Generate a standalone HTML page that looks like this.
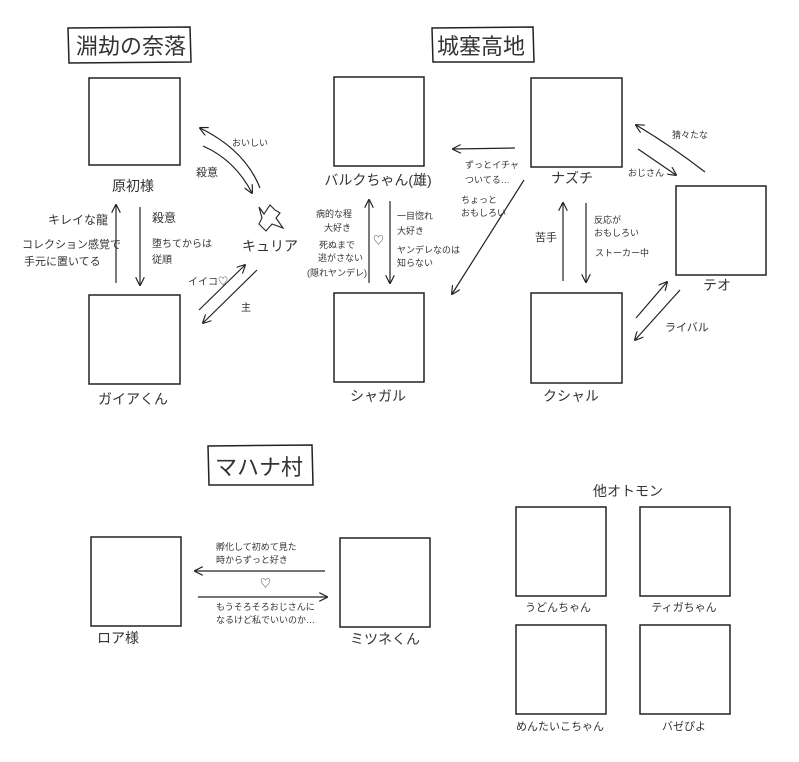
<!DOCTYPE html>
<html><head><meta charset="utf-8"><style>
body{margin:0;background:#fff}
svg{display:block}
text{font-family:"Liberation Sans","Noto Sans CJK JP",sans-serif;fill:#333}
</style></head><body>
<svg width="799" height="762" viewBox="0 0 799 762" xmlns="http://www.w3.org/2000/svg">
<defs><marker id="a" viewBox="0 0 10 10" refX="9" refY="5" markerWidth="9" markerHeight="9" orient="auto-start-reverse" markerUnits="userSpaceOnUse"><path d="M0,0 L10,5 L0,10" fill="none" stroke="#222" stroke-width="1.3"/></marker></defs>
<g fill="none" stroke="#222" stroke-width="1.5">
<rect x="89" y="78" width="91" height="87"/>
<rect x="89" y="295" width="91" height="89"/>
<rect x="334" y="77" width="90" height="89"/>
<rect x="334" y="293" width="90" height="89"/>
<rect x="531" y="78" width="91" height="89"/>
<rect x="531" y="293" width="91" height="90"/>
<rect x="676" y="186" width="90" height="89"/>
<rect x="91" y="537" width="90" height="89"/>
<rect x="340" y="538" width="90" height="89"/>
<rect x="516" y="507" width="90" height="89"/>
<rect x="640" y="507" width="90" height="89"/>
<rect x="516" y="625" width="90" height="89"/>
<rect x="640" y="625" width="90" height="89"/>
<path d="M68,28 L190,27 L191,62 L69,63 Z"/>
<path d="M432,28 L533,27 L534,62 L433,62 Z"/>
<path d="M208,446 L312,445 L313,485 L209,485 Z"/>
</g>
<g fill="none" stroke="#222" stroke-width="1.2" marker-end="url(#a)">
<path d="M260,188 Q245,150 200,128"/>
<path d="M203,146 Q235,160 252,193"/>
<path d="M116,283 L116,205"/>
<path d="M140,207 L140,285"/>
<path d="M199,310 L245,265"/>
<path d="M257,270 L203,323"/>
<path d="M369,283 L369,200"/>
<path d="M390,201 L390,283"/>
<path d="M515,148 L453,149"/>
<path d="M524,180 L452,294"/>
<path d="M563,281 L563,203"/>
<path d="M586,203 L586,282"/>
<path d="M705,172 Q670,145 636,125"/>
<path d="M638,149 L676,175"/>
<path d="M636,318 L667,282"/>
<path d="M680,290 L635,340"/>
<path d="M325,571 L195,571"/>
<path d="M198,597 L327,597"/>
</g>
<path d="M259,207 L264,214 L270,205 L275,210 L280,213 L276,218 L283,228 L272,224 L266,231 L259,224 L262,218 Z" fill="none" stroke="#222" stroke-width="1.1"/>
<g font-size="22"><text x="76" y="54">淵劫の奈落</text><text x="437" y="54">城塞高地</text><text x="215" y="475">マハナ村</text></g>
<g font-size="14" text-anchor="middle">
<text x="133" y="191">原初様</text><text x="133" y="404">ガイアくん</text>
<text x="270" y="251">キュリア</text>
<text x="378" y="185">バルクちゃん(雄)</text><text x="378" y="401">シャガル</text>
<text x="572" y="183">ナズチ</text><text x="571" y="401">クシャル</text>
<text x="717" y="290">テオ</text>
<text x="118" y="643">ロア様</text><text x="385" y="644">ミツネくん</text>
<text x="628" y="496">他オトモン</text>
<text x="558" y="611" font-size="11">うどんちゃん</text><text x="684" y="611" font-size="11">ティガちゃん</text>
<text x="560" y="730" font-size="11">めんたいこちゃん</text><text x="684" y="730" font-size="11">バゼぴよ</text>
</g>
<g font-size="11">
<text x="232" y="146" font-size="9">おいしい</text><text x="196" y="176">殺意</text>
<text x="48" y="224" font-size="12">キレイな龍</text><text x="22" y="248">コレクション感覚で</text><text x="24" y="265">手元に置いてる</text>
<text x="152" y="222" font-size="12">殺意</text><text x="152" y="247" font-size="10">堕ちてからは</text><text x="152" y="263" font-size="10">従順</text>
<text x="188" y="285" font-size="10">イイコ♡</text><text x="241" y="311" font-size="10">主</text>
<g font-size="9"><text x="316" y="217">病的な程</text><text x="324" y="231">大好き</text><text x="319" y="248">死ぬまで</text><text x="318" y="261">逃がさない</text><text x="307" y="276">(隠れヤンデレ)</text>
<text x="397" y="219">一目惚れ</text><text x="397" y="234">大好き</text><text x="397" y="253">ヤンデレなのは</text><text x="397" y="266">知らない</text>
<text x="465" y="168">ずっとイチャ</text><text x="465" y="183">ついてる…</text><text x="461" y="203">ちょっと</text><text x="461" y="216">おもしろい</text>
<text x="594" y="223">反応が</text><text x="594" y="236">おもしろい</text><text x="595" y="256">ストーカー中</text>
<text x="628" y="176">おじさん</text><text x="672" y="138">猜々たな</text>
<text x="216" y="550">孵化して初めて見た</text><text x="216" y="563">時からずっと好き</text>
<text x="216" y="610">もうそろそろおじさんに</text><text x="216" y="623">なるけど私でいいのか…</text></g>
<text x="535" y="241">苦手</text><text x="665" y="331">ライバル</text>
<text x="373" y="244">♡</text><text x="260" y="587">♡</text>
</g>
</svg>
</body></html>
